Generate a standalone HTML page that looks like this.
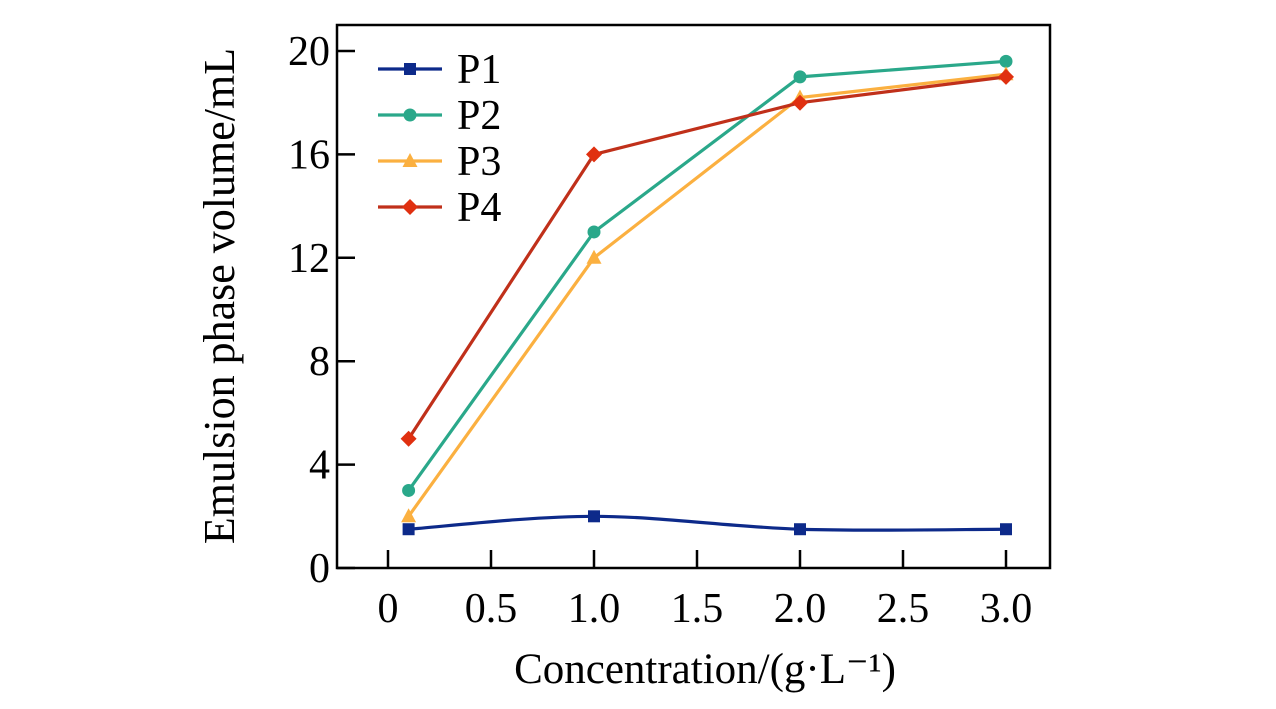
<!DOCTYPE html>
<html><head><meta charset="utf-8"><style>
body{margin:0;background:#fff}
svg{display:block;font-family:"Liberation Serif",serif}
</style></head><body>
<svg id="chart" width="1276" height="709" viewBox="0 0 1276 709" xmlns="http://www.w3.org/2000/svg">
<g id="marks"></g>
<rect x="337" y="25" width="713" height="543" fill="none" stroke="#000" stroke-width="2.5"/>
<g id="ticks"></g>
<text transform="translate(234,296) rotate(-90)" text-anchor="middle" font-size="44">Emulsion phase volume/mL</text>
<text x="705" y="683" text-anchor="middle" font-size="43">Concentration/(g·L⁻¹)</text>
<g id="legend"></g>
</svg>
<script>
const xValues=[0.1,1,2,3];
const p1=[1.5,2,1.5,1.5];
const p2=[3,13,19,19.6];
const p3=[2,12,18.2,19.1];
const p4=[5,16,18,19];
const seriesNames=["P1","P2","P3","P4"];
const xTicks=[0,0.5,1,1.5,2,2.5,3];
const xTickLabels=["0","0.5","1.0","1.5","2.0","2.5","3.0"];
const yTicks=[0,4,8,12,16,20];

const NS="http://www.w3.org/2000/svg";
const X=v=>388+v*206;
const Y=v=>568-v*25.85;
function mk(tag,attrs,parent){const e=document.createElementNS(NS,tag);for(const k in attrs)e.setAttribute(k,attrs[k]);parent.appendChild(e);return e;}
const marks=document.getElementById('marks'),ticks=document.getElementById('ticks'),legend=document.getElementById('legend');
const colors=["#0d2a8a","#2aa88a","#fbb040","#e03010"];
const lineColors=["#0d2a8a","#2aa88a","#fbb040","#c0301a"];
const shapes=["square","circle","triangle","diamond"];
function marker(shape,x,y,c,parent){
  let e;
  if(shape==="square")e=mk('rect',{x:x-6,y:y-6,width:12,height:12,fill:c},parent);
  else if(shape==="circle")e=mk('circle',{cx:x,cy:y,r:6.5,fill:c},parent);
  else if(shape==="triangle")e=mk('polygon',{points:`${x},${y-8} ${x-7.5},${y+6} ${x+7.5},${y+6}`,fill:c},parent);
  else e=mk('polygon',{points:`${x},${y-8} ${x+8},${y} ${x},${y+8} ${x-8},${y}`,fill:c},parent);
  return e;
}
[p1,p2,p3,p4].forEach((s,i)=>{
  const pts=s.map((v,j)=>[X(xValues[j]),Y(v)]);
  let d;
  if(i===0){
    d=`M${pts[0][0]},${pts[0][1]}`;
    for(let j=0;j<pts.length-1;j++){
      const p0=pts[Math.max(j-1,0)],a=pts[j],b=pts[j+1],p3_=pts[Math.min(j+2,pts.length-1)];
      const c1=[a[0]+(b[0]-p0[0])/6,a[1]+(b[1]-p0[1])/6],c2=[b[0]-(p3_[0]-a[0])/6,b[1]-(p3_[1]-a[1])/6];
      d+=` C${c1[0]},${c1[1]} ${c2[0]},${c2[1]} ${b[0]},${b[1]}`;
    }
  } else d="M"+pts.map(p=>p.join(",")).join(" L");
  const path=mk('path',{d:d,fill:"none",stroke:lineColors[i],"stroke-width":3.2},marks);
  
  
  pts.forEach((p,j)=>{
    const m=marker(shapes[i],p[0],p[1],colors[i],marks);
    
    
  });
});
xTicks.forEach((t,i)=>{
  const l=mk('line',{x1:X(t),x2:X(t),y1:568,y2:550,stroke:"#000","stroke-width":2.5},ticks);
  
  
  const tx=mk('text',{x:X(t),y:622,"text-anchor":"middle","font-size":42},ticks);
  tx.textContent=xTickLabels[i];
  
  
});
yTicks.forEach(t=>{
  const l=mk('line',{x1:337,x2:355,y1:Y(t),y2:Y(t),stroke:"#000","stroke-width":2.5},ticks);
  
  
  const tx=mk('text',{x:330,y:Y(t)+14,"text-anchor":"end","font-size":42},ticks);
  tx.textContent=String(t);
  
  
});
seriesNames.forEach((n,i)=>{
  const y=69+i*46;
  const g=mk('g',{},legend);
  
  
  mk('line',{x1:378,x2:442,y1:y,y2:y,stroke:lineColors[i],"stroke-width":3.2},g);
  marker(shapes[i],410,y,colors[i],g);
  const tx=mk('text',{x:457,y:y+14,"font-size":42},g);
  tx.textContent=n;
});
</script>
</body></html>
